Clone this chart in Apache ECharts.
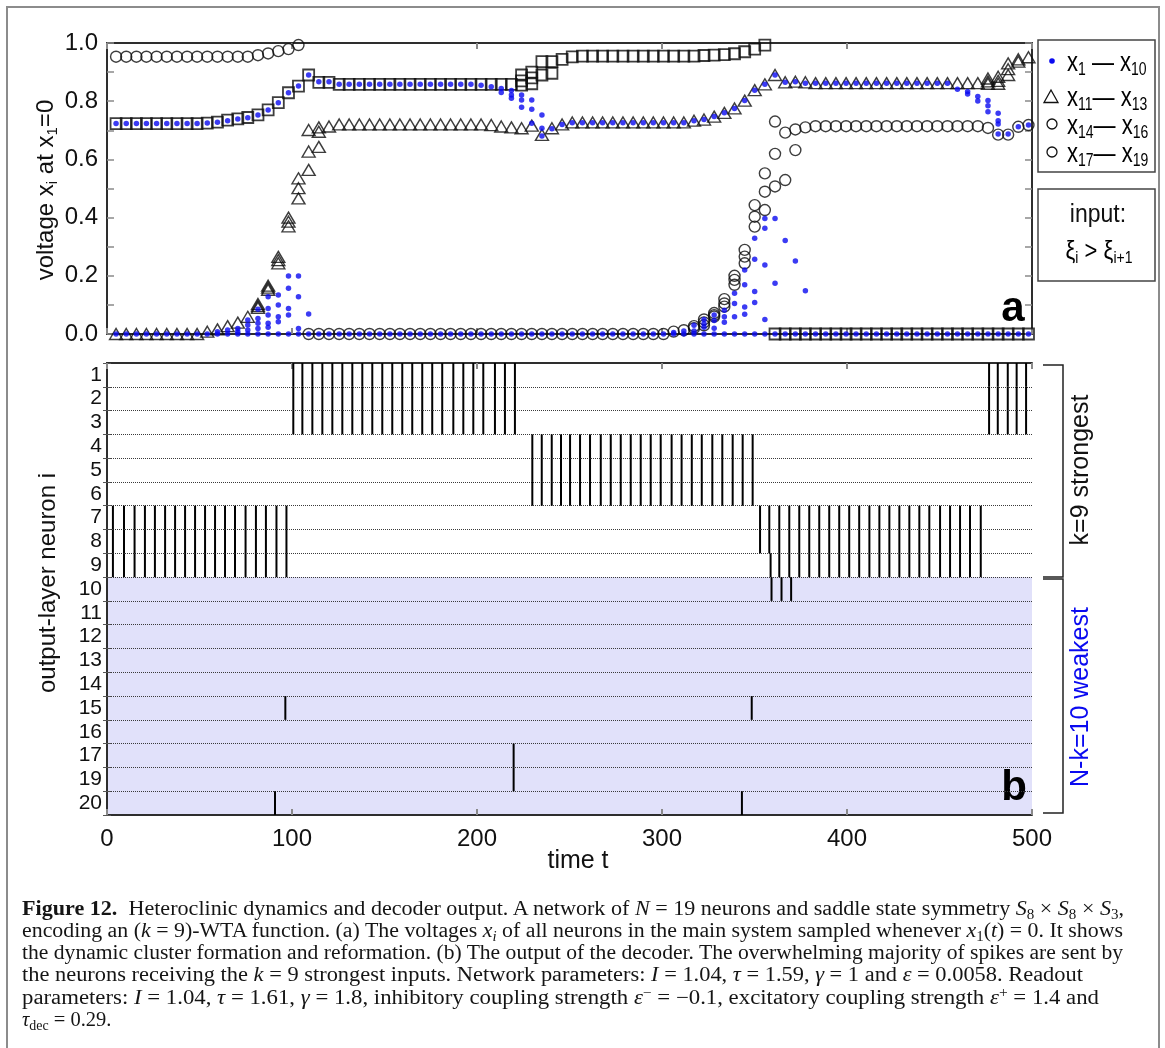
<!DOCTYPE html>
<html>
<head>
<meta charset="utf-8">
<script src="https://cdn.jsdelivr.net/npm/echarts@6/dist/echarts.min.js"></script>
<style>
html, body { margin: 0; padding: 0; background: #fff; }
#chart { position: absolute; left: 0; top: 0; width: 1165px; height: 1048px; }
.cap { position: absolute; left: 22px; white-space: nowrap; font-family: "Liberation Serif", "DejaVu Serif", serif;
       font-size: 20.5px; line-height: 22px; color: #151515; transform-origin: 0 50%; }
.cap sub { font-size: 0.68em; vertical-align: -0.28em; line-height: 0; }
.cap sup { font-size: 0.68em; vertical-align: 0.5em; line-height: 0; }
</style>
</head>
<body>
<div id="chart"></div>
<div class="cap" data-w="1102" style="top:897px"><b>Figure 12.</b>&ensp;Heteroclinic dynamics and decoder output. A network of <i>N</i> = 19 neurons and saddle state symmetry <i>S</i><sub>8</sub> × <i>S</i><sub>8</sub> × <i>S</i><sub>3</sub>,</div>
<div class="cap" data-w="1101" style="top:919px">encoding an (<i>k</i> = 9)-WTA function. (a) The voltages <i>x<sub>i</sub></i> of all neurons in the main system sampled whenever <i>x</i><sub>1</sub>(<i>t</i>) = 0. It shows</div>
<div class="cap" data-w="1101" style="top:941px">the dynamic cluster formation and reformation. (b) The output of the decoder. The overwhelming majority of spikes are sent by</div>
<div class="cap" data-w="1061" style="top:963px">the neurons receiving the <i>k</i> = 9 strongest inputs. Network parameters: <i>I</i> = 1.04, <i>τ</i> = 1.59, <i>γ</i> = 1 and <i>ε</i> = 0.0058. Readout</div>
<div class="cap" data-w="1077" style="top:986px">parameters: <i>I</i> = 1.04, <i>τ</i> = 1.61, <i>γ</i> = 1.8, inhibitory coupling strength <i>ε</i><sup>−</sup> = −0.1, excitatory coupling strength <i>ε</i><sup>+</sup> = 1.4 and</div>
<div class="cap" style="top:1008px"><i>τ</i><sub>dec</sub> = 0.29.</div>
<script>
// ---- panel (a): sampling instants (x1 = 0) and voltages -----------------
const sampleTimes = [
  4.9, 10.4, 15.9, 21.3, 26.8, 32.3, 37.8, 43.3, 48.7, 54.2,
  59.7, 65.2, 70.7, 76.1, 81.6, 87.1, 92.6, 98.1, 103.5, 109.0,
  114.5, 120.0, 125.5, 130.9, 136.4, 141.9, 147.4, 152.9, 158.3, 163.8,
  169.3, 174.8, 180.3, 185.7, 191.2, 196.7, 202.2, 207.7, 213.1, 218.6,
  224.1, 229.6, 235.1, 240.5, 246.0, 251.5, 257.0, 262.5, 267.9, 273.4,
  278.9, 284.4, 289.9, 295.3, 300.8, 306.3, 311.8, 317.3, 322.7, 328.2,
  333.7, 339.2, 344.7, 350.1, 355.6, 361.1, 366.6, 372.1, 377.5, 383.0,
  388.5, 394.0, 399.5, 404.9, 410.4, 415.9, 421.4, 426.9, 432.3, 437.8,
  443.3, 448.8, 454.3, 459.7, 465.2, 470.7, 476.2, 481.7, 487.1, 492.6, 498.1
];

// x1 is sampled at its own zero crossing
const x1Zero = [
  0,0,0,0,0,0,0,0,0,0, 0,0,0,0,0,0,0,0,0,0, 0,0,0,0,0,0,0,0,0,0,
  0,0,0,0,0,0,0,0,0,0, 0,0,0,0,0,0,0,0,0,0, 0,0,0,0,0,0,0,0,0,0,
  0,0,0,0,0,0,0,0,0,0, 0,0,0,0,0,0,0,0,0,0, 0,0,0,0,0,0,0,0,0,0, 0
];
// cluster of x2..x10 away from zero
const x1to10Cluster = [
  0.723, 0.723, 0.723, 0.723, 0.723, 0.723, 0.723, 0.723, 0.723, 0.725,
  0.728, 0.733, 0.739, 0.743, 0.753, 0.770, 0.795, 0.829, 0.852, 0.890,
  0.867, 0.867, 0.858, 0.858, 0.858, 0.858, 0.858, 0.858, 0.858, 0.858,
  0.858, 0.858, 0.858, 0.858, 0.858, 0.858, 0.855, 0.850, 0.844, 0.821,
  0.804, 0.772, 0.680, 0.705, 0.720, 0.726, 0.726, 0.726, 0.726, 0.726,
  0.726, 0.726, 0.726, 0.726, 0.726, 0.726, 0.726, 0.733, 0.737, 0.747,
  0.760, 0.775, 0.802, 0.838, 0.858, 0.890, 0.865, 0.867, 0.862, 0.862,
  0.862, 0.862, 0.862, 0.862, 0.862, 0.862, 0.862, 0.862, 0.862, 0.862,
  0.862, 0.862, 0.862, 0.841, 0.833, 0.816, 0.784, 0.733, 0.687, 0.712, 0.718
];
// [sample index, voltage] of x1..x10 members leaving their cluster
const x1to10Spread = [
  [10,0.008],[11,0.014],[12,0.019],[12,0.008],[13,0.048],[13,0.031],[13,0.014],
  [14,0.085],[14,0.053],[14,0.037],[14,0.019],[15,0.128],[15,0.088],[15,0.065],[15,0.037],[15,0.023],
  [16,0.134],[16,0.100],[16,0.059],[16,0.042],[17,0.199],[17,0.157],[17,0.088],[17,0.065],
  [18,0.199],[18,0.128],[18,0.019],[19,0.069],
  [38,0.830],[39,0.837],[39,0.810],[40,0.821],[40,0.779],[41,0.804],[41,0.724],[42,0.753],[42,0.707],
  [55,0.005],[56,0.010],[57,0.010],[57,0.030],[58,0.023],[58,0.035],[58,0.050],
  [59,0.020],[59,0.046],[59,0.065],[60,0.040],[60,0.059],[60,0.082],[61,0.059],[61,0.105],[61,0.140],
  [62,0.068],[62,0.093],[62,0.169],[62,0.220],[63,0.108],[63,0.146],[63,0.257],[63,0.329],
  [64,0.050],[64,0.237],[64,0.363],[64,0.397],[65,0.174],[65,0.397],[66,0.321],[67,0.251],[68,0.149],
  [84,0.825],[85,0.801],[86,0.802],[86,0.764],[87,0.759],[87,0.722],[87,0.687]
];

const x11to13 = [
  0, 0, 0, 0, 0, 0, 0, 0, 0, 0.008,
  0.016, 0.027, 0.039, 0.059, 0.096, 0.159, 0.254, 0.386, 0.501, 0.627,
  0.695, 0.713, 0.720, 0.720, 0.720, 0.720, 0.720, 0.720, 0.720, 0.720,
  0.720, 0.720, 0.720, 0.720, 0.720, 0.720, 0.720, 0.718, 0.713, 0.710,
  0.707, 0.716, 0.684, 0.707, 0.720, 0.727, 0.727, 0.727, 0.727, 0.727,
  0.727, 0.727, 0.727, 0.727, 0.727, 0.727, 0.727, 0.733, 0.737, 0.747,
  0.760, 0.775, 0.802, 0.838, 0.858, 0.890, 0.865, 0.867, 0.865, 0.862,
  0.862, 0.862, 0.862, 0.862, 0.862, 0.862, 0.862, 0.862, 0.862, 0.862,
  0.862, 0.862, 0.862, 0.862, 0.862, 0.862, 0.868, 0.870, 0.910, 0.936, 0.951
];
const x11to13Spread = [
  [14,0.090],[14,0.103],[15,0.152],[15,0.166],[16,0.243],[16,0.265],[17,0.370],[17,0.400],
  [18,0.466],[18,0.535],[19,0.564],[19,0.701],[20,0.643],[20,0.710],
  [86,0.860],[86,0.878],[87,0.860],[87,0.884],[88,0.890],[88,0.930],[89,0.944]
];

const x14to16 = [
  0.953, 0.953, 0.953, 0.953, 0.953, 0.953, 0.953, 0.953, 0.953, 0.953,
  0.953, 0.953, 0.953, 0.953, 0.958, 0.964, 0.972, 0.979, 0.993, 0,
  0, 0, 0, 0, 0, 0, 0, 0, 0, 0,
  0, 0, 0, 0, 0, 0, 0, 0, 0, 0,
  0, 0, 0, 0, 0, 0, 0, 0, 0, 0,
  0, 0, 0, 0, 0, 0.008, 0.013, 0.027, 0.040, 0.065,
  0.105, 0.186, 0.266, 0.403, 0.489, 0.730, 0.692, 0.703, 0.710, 0.714,
  0.714, 0.714, 0.714, 0.714, 0.714, 0.714, 0.714, 0.714, 0.714, 0.714,
  0.714, 0.714, 0.714, 0.714, 0.714, 0.714, 0.708, 0.685, 0.685, 0.712, 0.718
];
const x14to16Spread = [
  [57,0.020],[58,0.030],[58,0.050],[59,0.060],[59,0.072],[60,0.094],[60,0.120],
  [61,0.169],[61,0.200],[62,0.243],[62,0.289],[63,0.369],[63,0.443],[64,0.426],[64,0.552],
  [65,0.507],[65,0.619],[66,0.529],[67,0.632]
];

const x17to19 = [
  0.723, 0.723, 0.723, 0.723, 0.723, 0.723, 0.723, 0.723, 0.723, 0.725,
  0.728, 0.735, 0.739, 0.744, 0.753, 0.770, 0.795, 0.829, 0.852, 0.890,
  0.865, 0.865, 0.858, 0.858, 0.858, 0.858, 0.858, 0.858, 0.858, 0.858,
  0.858, 0.858, 0.858, 0.858, 0.858, 0.858, 0.858, 0.858, 0.858, 0.858,
  0.870, 0.880, 0.936, 0.936, 0.944, 0.952, 0.955, 0.955, 0.955, 0.955,
  0.955, 0.955, 0.955, 0.955, 0.955, 0.955, 0.955, 0.955, 0.957, 0.958,
  0.960, 0.963, 0.970, 0.979, 0.993, 0, 0, 0, 0, 0,
  0, 0, 0, 0, 0, 0, 0, 0, 0, 0,
  0, 0, 0, 0, 0, 0, 0, 0, 0, 0, 0
];
const x17to19Spread = [
  [40,0.855],[40,0.890],[41,0.860],[41,0.900],[42,0.890],[43,0.896]
];

// ---- panel (b): decoder output spikes ------------------------------------
const neuronRows = ['1','2','3','4','5','6','7','8','9','10','11','12','13','14','15','16','17','19','20'];
const spikesRows7to9Early = [3.2, 9.2, 14.9, 20.5, 25.9, 31.4, 36.8, 42.2, 47.6, 53.0, 58.4, 63.8, 69.2, 74.9, 80.5, 85.9, 91.6, 97.0];
const spikesRows1to3Early = [100.7, 105.6, 111.0, 116.4, 121.8, 127.2, 132.6, 138.0, 143.4, 148.8, 154.2, 159.6,
  165.0, 170.4, 175.8, 181.2, 187.2, 192.6, 198.0, 203.4, 209.7, 215.1, 220.5];
const spikesRows4to6 = [229.9, 235.0, 240.4, 245.4, 250.3, 255.7, 261.1, 266.9, 272.3, 277.7, 283.1, 288.5,
  293.9, 299.3, 305.2, 310.6, 316.1, 321.5, 327.2, 332.6, 338.2, 343.6, 349.0];
const spikesRows7to8Late = [353.0, 358.0, 363.4, 368.8, 374.2, 379.6, 385.0, 390.4, 395.8, 401.2, 406.6, 412.1,
  417.5, 422.9, 428.3, 433.7, 439.1, 444.5, 450.3, 455.7, 461.1, 466.5, 472.3];
const spikesRow9Late = [358.7, 363.4, 368.8, 374.2, 379.6, 385.0, 390.4, 395.8, 401.2, 406.6, 412.1,
  417.5, 422.9, 428.3, 433.7, 439.1, 444.5, 450.3, 455.7, 461.1, 466.5, 472.3];
const spikesRows1to3Late = [476.8, 481.5, 486.9, 491.7, 496.8];
const spikesRow10 = [359.2, 364.6, 369.8];
const spikesRow15 = [96.4, 348.5];
const spikesRows17and19 = [219.8];
const spikesRow20 = [90.8, 343.2];

// ---- assemble -------------------------------------------------------------
const pts = (vals) => vals.map((v, i) => [sampleTimes[i], v]);
const spreadPts = (list) => list.map(([k, v]) => [sampleTimes[k], v]);

const spikeData = [];
function addSpikes(times, rows) {
  rows.forEach(r => times.forEach(t => spikeData.push([t, neuronRows.indexOf(r)])));
}
addSpikes(spikesRows7to9Early, ['7','8','9']);
addSpikes(spikesRows1to3Early, ['1','2','3']);
addSpikes(spikesRows4to6, ['4','5','6']);
addSpikes(spikesRows7to8Late, ['7','8']);
addSpikes(spikesRow9Late, ['9']);
addSpikes(spikesRows1to3Late, ['1','2','3']);
addSpikes(spikesRow10, ['10']);
addSpikes(spikesRow15, ['15']);
addSpikes(spikesRows17and19, ['17','19']);
addSpikes(spikesRow20, ['20']);

const FONT = '"Liberation Sans", Arial, Helvetica, sans-serif';
const AXIS = '#2e2e2e';
const TICK = '#8a8a8a';
const BLUE = '#0a0af0';

const baseX = (grid, pos, labels) => ({
  gridIndex: grid, type: 'value', min: 0, max: 500, interval: 100, position: pos,
  axisLine: { show: true, onZero: false, lineStyle: { color: AXIS, width: 2 } },
  axisTick: { show: true, inside: true, length: 6, lineStyle: { color: TICK, width: 2 } },
  axisLabel: labels ? { show: true, fontSize: 24, fontFamily: FONT, color: '#111', margin: 12 } : { show: false },
  splitLine: { show: false }
});
const voltAxis = (pos, labels) => ({
  gridIndex: 0, type: 'value', min: 0, max: 1, interval: 0.1, position: pos,
  axisLine: { show: true, onZero: false, lineStyle: { color: AXIS, width: 2 } },
  axisTick: { show: true, inside: true, length: 7, lineStyle: { color: TICK, width: 1.5 } },
  axisLabel: labels ? {
    show: true, fontSize: 24, fontFamily: FONT, color: '#111', margin: 9,
    formatter: v => (Math.round(v * 10) % 2 === 0 ? v.toFixed(1) : '')
  } : { show: false },
  splitLine: { show: false }
});
const rowAxis = (pos, labels) => ({
  gridIndex: 1, type: 'category', data: neuronRows, inverse: true, position: pos, boundaryGap: true,
  axisLine: { show: true, lineStyle: { color: AXIS, width: 2 } },
  axisTick: { show: true, inside: true, length: 4, interval: 0, lineStyle: { color: '#555', width: 1 } },
  axisLabel: labels ? { show: true, interval: 0, fontSize: 21, fontFamily: FONT, color: '#111', margin: 5 } : { show: false },
  splitLine: labels ? { show: true, interval: 0, lineStyle: { type: [1, 1], color: '#3a3a3a', width: 1 } } : { show: false }
});

const hollow = (w) => ({ color: 'rgba(0,0,0,0)', borderColor: '#0c0c0c', borderWidth: w });

const legendRich = {
  a: { fontSize: 22, fontFamily: FONT, color: '#111', lineHeight: 26 },
  s: { fontSize: 14, fontFamily: FONT, color: '#111', lineHeight: 16, verticalAlign: 'bottom' }
};
const TALL = 1.25;   // legend lettering is drawn slightly elongated

const option = {
  animation: false,
  backgroundColor: '#ffffff',
  grid: [
    { left: 107, top: 43, width: 925, height: 291 },
    { left: 107, top: 363, width: 925, height: 452 }
  ],
  xAxis: [baseX(0, 'bottom', false), baseX(0, 'top', false), baseX(1, 'bottom', true), baseX(1, 'top', false)],
  yAxis: [voltAxis('left', true), voltAxis('right', false), rowAxis('left', true), rowAxis('right', false)],
  series: [
    {
      name: 'weak band', type: 'custom', xAxisIndex: 2, yAxisIndex: 2, z: -1, silent: true,
      data: [[0, 9, 18]],
      renderItem: (params, api) => {
        const h = api.size([0, 1])[1];
        const y0 = api.coord([0, api.value(1)])[1] - h / 2;
        const y1 = api.coord([0, api.value(2)])[1] + h / 2;
        const cs = params.coordSys;
        return { type: 'rect', shape: { x: cs.x, y: y0, width: cs.width, height: y1 - y0 },
                 style: { fill: '#e1e1fa' } };
      }
    },
    {
      name: 'spikes', type: 'custom', xAxisIndex: 2, yAxisIndex: 2, z: 3, silent: true,
      data: spikeData,
      renderItem: (params, api) => {
        const p = api.coord([api.value(0), api.value(1)]);
        const h = api.size([0, 1])[1];
        return { type: 'line', shape: { x1: p[0], y1: p[1] - h / 2, x2: p[0], y2: p[1] + h / 2 },
                 style: { stroke: '#000', lineWidth: 2 } };
      }
    },
    { name: 'x17-x19', type: 'scatter', xAxisIndex: 0, yAxisIndex: 0, symbol: 'rect', symbolSize: 11, silent: true,
      itemStyle: hollow(1.8), data: pts(x17to19).concat(spreadPts(x17to19Spread)) },
    { name: 'x14-x16', type: 'scatter', xAxisIndex: 0, yAxisIndex: 0, symbol: 'circle', symbolSize: 11, silent: true,
      itemStyle: hollow(1.4), data: pts(x14to16).concat(spreadPts(x14to16Spread)) },
    { name: 'x11-x13', type: 'scatter', xAxisIndex: 0, yAxisIndex: 0, symbol: 'triangle', symbolSize: [13, 11], silent: true,
      itemStyle: hollow(1.4), data: pts(x11to13).concat(spreadPts(x11to13Spread)) },
    { name: 'x1-x10', type: 'scatter', xAxisIndex: 0, yAxisIndex: 0, symbol: 'circle', symbolSize: 5.5, silent: true, z: 5,
      itemStyle: { color: BLUE },
      data: pts(x1Zero).concat(pts(x1to10Cluster), spreadPts(x1to10Spread)) }
  ],
  graphic: [
    // page frame
    { type: 'polyline', silent: true, shape: { points: [[7, 1060], [7, 7], [1159, 7], [1159, 1060]] },
      style: { stroke: '#8c8c8c', lineWidth: 2, fill: null } },
    // axis titles
    { type: 'text', x: 46, y: 190, rotation: Math.PI / 2, silent: true,
      style: { text: '{a|voltage x}{s|i}{a| at x}{s|1}{a|=0}', align: 'center', verticalAlign: 'middle',
               rich: { a: { fontSize: 24, fontFamily: FONT, fill: '#111', lineHeight: 28 },
                       s: { fontSize: 15, fontFamily: FONT, fill: '#111', lineHeight: 18, verticalAlign: 'bottom' } } } },
    { type: 'text', x: 48, y: 583, rotation: Math.PI / 2, silent: true,
      style: { text: 'output-layer neuron i', font: '24px ' + FONT, fill: '#111', align: 'center', verticalAlign: 'middle' } },
    { type: 'text', x: 578, y: 861, silent: true,
      style: { text: 'time t', font: '25px ' + FONT, fill: '#111', align: 'center', verticalAlign: 'middle' } },
    // panel letters
    { type: 'text', x: 1013, y: 309, silent: true,
      style: { text: 'a', font: 'bold 42px ' + FONT, fill: '#000', align: 'center', verticalAlign: 'middle' } },
    { type: 'text', x: 1014, y: 788, silent: true,
      style: { text: 'b', font: 'bold 42px ' + FONT, fill: '#000', align: 'center', verticalAlign: 'middle' } },
    // legend box
    { type: 'rect', silent: true, shape: { x: 1038, y: 40, width: 117, height: 132 },
      style: { fill: '#fff', stroke: '#444', lineWidth: 1.5 } },
    { type: 'circle', silent: true, shape: { cx: 1052, cy: 61, r: 2.8 }, style: { fill: BLUE } },
    { type: 'polygon', silent: true, shape: { points: [[1051, 90], [1044, 102.5], [1058, 102.5]] },
      style: { fill: null, stroke: '#111', lineWidth: 1.3 } },
    { type: 'circle', silent: true, shape: { cx: 1052, cy: 124, r: 5 }, style: { fill: null, stroke: '#111', lineWidth: 1.3 } },
    { type: 'circle', silent: true, shape: { cx: 1052, cy: 152, r: 5 }, style: { fill: null, stroke: '#111', lineWidth: 1.3 } },
    { type: 'text', x: 1067, y: 63, scaleY: TALL, silent: true,
      style: { text: '{a|x}{s|1}{a| — x}{s|10}', align: 'left', verticalAlign: 'middle', rich: legendRich } },
    { type: 'text', x: 1067, y: 98, scaleY: TALL, silent: true,
      style: { text: '{a|x}{s|11}{a|— x}{s|13}', align: 'left', verticalAlign: 'middle', rich: legendRich } },
    { type: 'text', x: 1067, y: 126, scaleY: TALL, silent: true,
      style: { text: '{a|x}{s|14}{a|— x}{s|16}', align: 'left', verticalAlign: 'middle', rich: legendRich } },
    { type: 'text', x: 1067, y: 154, scaleY: TALL, silent: true,
      style: { text: '{a|x}{s|17}{a|— x}{s|19}', align: 'left', verticalAlign: 'middle', rich: legendRich } },
    // input box
    { type: 'rect', silent: true, shape: { x: 1038, y: 189, width: 117, height: 92 },
      style: { fill: '#fff', stroke: '#444', lineWidth: 1.5 } },
    { type: 'text', x: 1098, y: 215, scaleY: 1.15, silent: true,
      style: { text: 'input:', font: '23px ' + FONT, fill: '#111', align: 'center', verticalAlign: 'middle' } },
    { type: 'text', x: 1099, y: 252, scaleY: 1.15, silent: true,
      style: { text: '{a|ξ}{s|i}{a| > ξ}{s|i+1}', align: 'center', verticalAlign: 'middle', rich: legendRich } },
    // group brackets
    { type: 'polyline', silent: true, shape: { points: [[1043, 365], [1063, 365], [1063, 577], [1043, 577]] },
      style: { stroke: '#222', lineWidth: 1.5, fill: null } },
    { type: 'polyline', silent: true, shape: { points: [[1043, 579], [1063, 579], [1063, 813], [1043, 813]] },
      style: { stroke: '#222', lineWidth: 1.5, fill: null } },
    { type: 'text', x: 1081, y: 470, rotation: Math.PI / 2, silent: true,
      style: { text: 'k=9 strongest', font: '25px ' + FONT, fill: '#111', align: 'center', verticalAlign: 'middle' } },
    { type: 'text', x: 1081, y: 697, rotation: Math.PI / 2, silent: true,
      style: { text: 'N-k=10 weakest', font: '25px ' + FONT, fill: BLUE, align: 'center', verticalAlign: 'middle' } }
  ]
};

const chart = echarts.init(document.getElementById('chart'), null, { renderer: 'canvas' });
chart.setOption(option);

// fit caption lines to their set widths
document.querySelectorAll('.cap[data-w]').forEach(el => {
  const w = el.getBoundingClientRect().width;
  const target = parseFloat(el.getAttribute('data-w'));
  if (w > 0) el.style.transform = 'scaleX(' + (target / w).toFixed(4) + ')';
});
</script>
</body>
</html>
